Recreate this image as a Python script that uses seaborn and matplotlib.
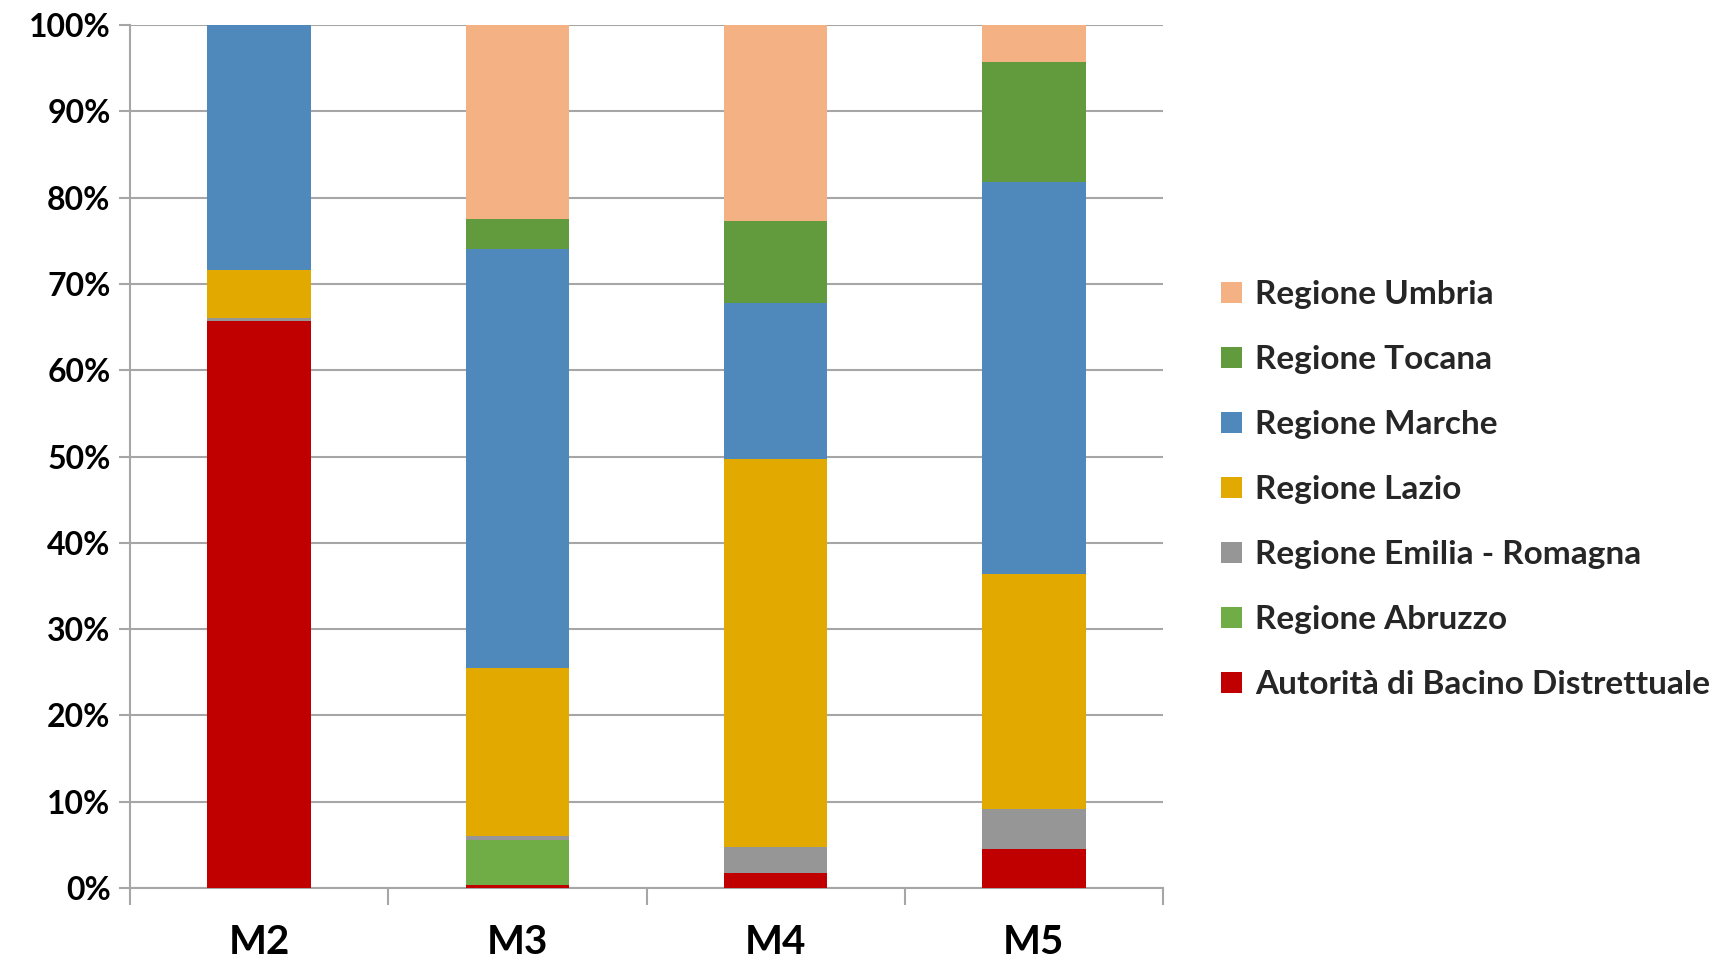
import matplotlib
matplotlib.use("Agg")
import matplotlib.pyplot as plt
import seaborn as sns
import pandas as pd
import numpy as np
from matplotlib.patches import Patch
from matplotlib.ticker import FuncFormatter, FixedLocator

categories = ["M2", "M3", "M4", "M5"]
series_names = ["Autorità di Bacino Distrettuale", "Regione Abruzzo",
                "Regione Emilia - Romagna", "Regione Lazio", "Regione Marche",
                "Regione Tocana", "Regione Umbria"]
autorita = [65.7, 0.4, 1.7, 4.5]
abruzzo = [0.0, 5.2, 0.0, 0.0]
emilia = [0.4, 0.4, 3.0, 4.7]
lazio = [5.5, 19.5, 45.0, 27.2]
marche = [28.4, 48.5, 18.1, 45.4]
tocana = [0.0, 3.5, 9.5, 13.9]
umbria = [0.0, 22.5, 22.7, 4.3]
colors = ["#C00000", "#70AD47", "#969696", "#E2A900", "#4F89BC", "#629A3E", "#F4B183"]

series = [autorita, abruzzo, emilia, lazio, marche, tocana, umbria]

sns.set_theme(style="white")
plt.rcParams['font.family'] = ['Lato', 'DejaVu Sans']
plt.rcParams['font.weight'] = 'bold'

fig = plt.figure(figsize=(17.22, 9.6), dpi=100)
ax = fig.add_axes([130/1722, 1 - 888/960, (1163 - 130)/1722, (888 - 25)/960])

cum = np.cumsum(np.array(series), axis=0)
for i in range(len(series) - 1, -1, -1):
    df = pd.DataFrame({"cat": categories, "val": cum[i]})
    sns.barplot(data=df, x="cat", y="val", color=colors[i], width=0.4,
                saturation=1, ax=ax, zorder=3, linewidth=0, edgecolor="none")

ax.set_xlim(-0.5, 3.5)
ax.set_ylim(0, 100)
ax.set_yticks(np.arange(0, 101, 10))
ax.yaxis.set_major_formatter(FuncFormatter(lambda v, p: f"{int(v)}%"))
ax.yaxis.grid(True, color="#A6A6A6", linewidth=1.5, zorder=0)
ax.set_axisbelow(True)
ax.set_xlabel("")
ax.set_ylabel("")

for s in ["top", "right"]:
    ax.spines[s].set_visible(False)
for s in ["left", "bottom"]:
    ax.spines[s].set_color("#A6A6A6")
    ax.spines[s].set_linewidth(1.5)

ax.tick_params(axis="x", which="major", length=0, pad=26, labelsize=29)
ax.xaxis.set_minor_locator(FixedLocator([-0.5, 0.5, 1.5, 2.5, 3.5]))
ax.tick_params(axis="x", which="minor", length=12, width=1.5, color="#A6A6A6", direction="out", bottom=True)
ax.tick_params(axis="y", which="major", length=8, width=1.5, color="#A6A6A6", direction="out",
               left=True, labelsize=23, pad=6)
for lbl in ax.get_xticklabels() + ax.get_yticklabels():
    lbl.set_fontweight("bold")
    lbl.set_color("black")

handles = [Patch(facecolor=colors[i], edgecolor="none", label=series_names[i])
           for i in range(len(series_names) - 1, -1, -1)]
fig.legend(handles=handles, loc="center left", bbox_to_anchor=(1221/1722, 0.49),
           frameon=False, prop={"size": 24, "weight": "bold"},
           handlelength=0.62, handleheight=0.62, handletextpad=0.4,
           labelspacing=1.08, borderpad=0, borderaxespad=0)

fig.savefig("out.png", dpi=100)
